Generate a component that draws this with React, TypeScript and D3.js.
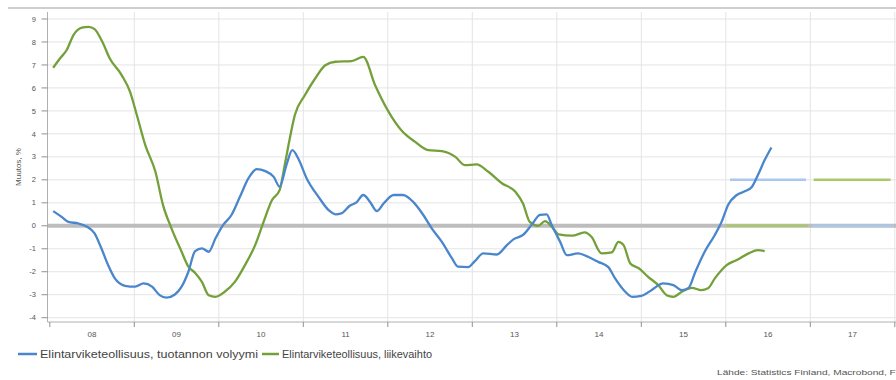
import React from "react";
import * as d3 from "d3";

// Time in decimal years, values in %
const blueT = [2008.04, 2008.14, 2008.22, 2008.34, 2008.44, 2008.53, 2008.61, 2008.69, 2008.77, 2008.89, 2009.01, 2009.11, 2009.21, 2009.30, 2009.38, 2009.48, 2009.56, 2009.64, 2009.72, 2009.80, 2009.88, 2009.96, 2010.05, 2010.15, 2010.25, 2010.35, 2010.45, 2010.55, 2010.65, 2010.72, 2010.80, 2010.87, 2010.94, 2011.04, 2011.18, 2011.30, 2011.38, 2011.45, 2011.55, 2011.63, 2011.71, 2011.79, 2011.87, 2011.95, 2012.07, 2012.18, 2012.30, 2012.42, 2012.52, 2012.64, 2012.76, 2012.83, 2012.95, 2013.03, 2013.13, 2013.29, 2013.41, 2013.49, 2013.60, 2013.70, 2013.80, 2013.88, 2013.94, 2014.04, 2014.12, 2014.25, 2014.37, 2014.49, 2014.61, 2014.69, 2014.81, 2014.89, 2015.00, 2015.12, 2015.26, 2015.38, 2015.48, 2015.56, 2015.64, 2015.75, 2015.87, 2015.95, 2016.03, 2016.13, 2016.23, 2016.31, 2016.38, 2016.46, 2016.54];
const blueValues = [0.64, 0.39, 0.17, 0.10, -0.04, -0.33, -0.98, -1.71, -2.29, -2.61, -2.65, -2.51, -2.65, -3.02, -3.13, -2.99, -2.65, -2.00, -1.10, -0.98, -1.13, -0.55, 0.03, 0.47, 1.26, 2.06, 2.47, 2.38, 2.13, 1.70, 2.64, 3.29, 2.93, 2.06, 1.26, 0.68, 0.50, 0.54, 0.87, 1.02, 1.34, 1.04, 0.64, 0.97, 1.34, 1.34, 1.04, 0.47, -0.11, -0.70, -1.42, -1.78, -1.80, -1.54, -1.20, -1.25, -0.84, -0.58, -0.40, 0.03, 0.47, 0.50, 0.03, -0.70, -1.28, -1.20, -1.35, -1.57, -1.80, -2.29, -2.87, -3.09, -3.05, -2.80, -2.51, -2.58, -2.80, -2.70, -2.00, -1.13, -0.40, 0.17, 0.93, 1.34, 1.51, 1.70, 2.21, 2.86, 3.41];

const greenT = [2008.04, 2008.12, 2008.20, 2008.28, 2008.38, 2008.46, 2008.53, 2008.63, 2008.71, 2008.85, 2008.95, 2009.03, 2009.13, 2009.25, 2009.34, 2009.44, 2009.56, 2009.64, 2009.72, 2009.80, 2009.88, 2009.96, 2010.07, 2010.19, 2010.31, 2010.43, 2010.53, 2010.63, 2010.72, 2010.78, 2010.84, 2010.90, 2011.02, 2011.14, 2011.26, 2011.38, 2011.57, 2011.71, 2011.85, 2012.01, 2012.16, 2012.32, 2012.48, 2012.64, 2012.80, 2012.91, 2013.05, 2013.19, 2013.35, 2013.51, 2013.60, 2013.68, 2013.78, 2013.86, 2013.94, 2014.02, 2014.18, 2014.33, 2014.41, 2014.53, 2014.65, 2014.73, 2014.79, 2014.87, 2014.97, 2015.08, 2015.20, 2015.30, 2015.38, 2015.48, 2015.60, 2015.71, 2015.79, 2015.87, 2016.01, 2016.13, 2016.27, 2016.38, 2016.46];
const greenValues = [6.88, 7.28, 7.65, 8.30, 8.62, 8.66, 8.56, 7.94, 7.28, 6.56, 5.83, 4.82, 3.51, 2.35, 0.90, -0.11, -1.13, -1.78, -2.05, -2.44, -3.02, -3.09, -2.87, -2.44, -1.71, -0.84, 0.17, 1.12, 1.55, 2.64, 3.80, 4.82, 5.69, 6.41, 6.99, 7.14, 7.17, 7.35, 6.12, 4.96, 4.16, 3.66, 3.29, 3.25, 3.00, 2.64, 2.67, 2.35, 1.85, 1.48, 0.97, 0.17, 0.00, 0.20, -0.04, -0.37, -0.43, -0.29, -0.48, -1.20, -1.16, -0.70, -0.84, -1.64, -1.85, -2.22, -2.58, -3.02, -3.09, -2.87, -2.70, -2.80, -2.72, -2.29, -1.71, -1.49, -1.20, -1.06, -1.10];

// Forecast markers: [start year, end year, value]
const blueForecast = [[2016.05, 2016.95, 2], [2017.02, 2017.99, 0]];
const greenForecast = [[2016.0, 2016.97, 0], [2017.04, 2017.95, 2]];

const yTicks = [9, 8, 7, 6, 5, 4, 3, 2, 1, 0, -1, -2, -3, -4];
const yearLabels = ["08", "09", "10", "11", "12", "13", "14", "15", "16", "17"];
const yearStarts = [2008, 2009, 2010, 2011, 2012, 2013, 2014, 2015, 2016, 2017, 2018];

const seriesNames = ["Elintarviketeollisuus, tuotannon volyymi", "Elintarviketeollisuus, liikevaihto"];
const yTitle = "Muutos, %";
const sourceText = "Lähde: Statistics Finland, Macrobond, FT";

const BLUE = "#4a86cc";
const GREEN = "#74a03a";
const LBLUE = "#a9c8ec";
const LGREEN = "#a9c86a";

export default function App() {
  const W = 896, H = 380;
  const x = d3.scaleLinear().domain([2008, 2018]).range([49.8, 894.8]);
  const y = d3.scaleLinear().domain([-4, 9]).range([317.7, 19]);
  const line = d3.line<[number, number]>().x(d => x(d[0])).y(d => y(d[1])).curve(d3.curveMonotoneX);
  const blue = blueT.map((t, i) => [t, blueValues[i]] as [number, number]);
  const green = greenT.map((t, i) => [t, greenValues[i]] as [number, number]);
  const axisX = 47.5;
  const axisY = 322;
  const font = "Liberation Sans, Arial, sans-serif";
  return (
    <svg width={W} height={H} style={{ position: "absolute", left: 0, top: 0, background: "#fff" }} fontFamily={font}>
      <line x1={8} x2={896} y1={8} y2={8} stroke="#cfcfcf" strokeWidth={2} />
      {yTicks.map(v => (
        <line key={"gy" + v} x1={axisX} x2={896} y1={y(v)} y2={y(v)} stroke="#e4e4e4" strokeWidth={1} />
      ))}
      {yearStarts.slice(1).map(t => (
        <line key={"gx" + t} x1={x(t)} x2={x(t)} y1={12} y2={axisY} stroke="#e4e4e4" strokeWidth={1} />
      ))}
      <line x1={axisX} x2={896} y1={y(0)} y2={y(0)} stroke="#bdbdbd" strokeWidth={4} />
      <line x1={axisX} x2={axisX} y1={12} y2={axisY} stroke="#b0b0b0" strokeWidth={1} />
      <line x1={axisX} x2={896} y1={axisY} y2={axisY} stroke="#b0b0b0" strokeWidth={1} />
      {yTicks.map(v => (
        <g key={"yt" + v}>
          <line x1={axisX - 6} x2={axisX} y1={y(v)} y2={y(v)} stroke="#909090" strokeWidth={1} />
          <text x={36} y={y(v)} dy="0.35em" textAnchor="end" fontSize={7.5} fill="#555">{v}</text>
        </g>
      ))}
      {yearStarts.map(t => (
        <line key={"xt" + t} x1={x(t)} x2={x(t)} y1={axisY} y2={axisY + 5} stroke="#909090" strokeWidth={1} />
      ))}
      {yearLabels.map((l, i) => (
        <text key={"xl" + l} x={x(yearStarts[i] + 0.5)} y={337} textAnchor="middle" fontSize={8} fill="#555">{l}</text>
      ))}
      <text transform={`translate(21,${167}) rotate(-90)`} textAnchor="middle" fontSize={8} fill="#555">{yTitle}</text>
      {blueForecast.map((f, i) => (
        <line key={"bf" + i} x1={x(f[0])} x2={x(f[1])} y1={y(f[2])} y2={y(f[2])} stroke={LBLUE} strokeWidth={2.5} />
      ))}
      {greenForecast.map((f, i) => (
        <line key={"gf" + i} x1={x(f[0])} x2={x(f[1])} y1={y(f[2])} y2={y(f[2])} stroke={LGREEN} strokeWidth={2.5} />
      ))}
      <path d={line(green) || ""} fill="none" stroke={GREEN} strokeWidth={2.3} />
      <path d={line(blue) || ""} fill="none" stroke={BLUE} strokeWidth={2.3} />
      <line x1={18} x2={37} y1={354} y2={354} stroke={BLUE} strokeWidth={2.5} />
      <text x={40} y={357.5} fontSize={10} fill="#444" textLength={218} lengthAdjust="spacingAndGlyphs">{seriesNames[0]}</text>
      <line x1={262} x2={279} y1={354} y2={354} stroke={GREEN} strokeWidth={2.5} />
      <text x={282} y={357.5} fontSize={10} fill="#444" textLength={150} lengthAdjust="spacingAndGlyphs">{seriesNames[1]}</text>
      <text x={717} y={375} fontSize={7.5} fill="#555" textLength={185} lengthAdjust="spacingAndGlyphs">{sourceText}</text>
    </svg>
  );
}
